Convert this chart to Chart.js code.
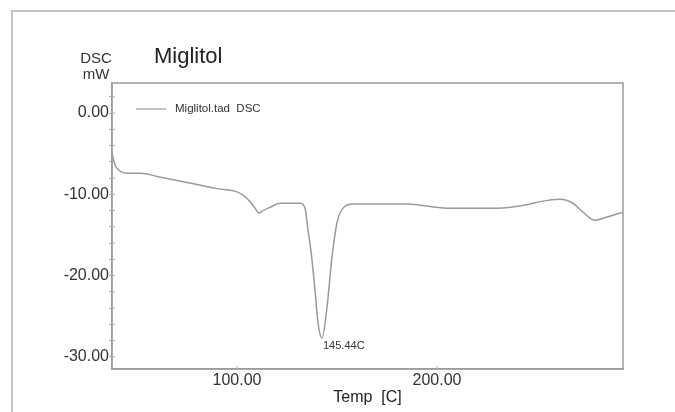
<!DOCTYPE html>
<html>
<head>
<meta charset="utf-8">
<script src="https://cdn.jsdelivr.net/npm/chart.js@4"></script>
<style>
  html, body { margin: 0; padding: 0; background: #fff; }
  #wrap { width: 675px; height: 412px; }
</style>
</head>
<body>
<div id="wrap"><canvas id="dscChart" width="675" height="412"></canvas></div>
<script>
// DSC curve (temperature in C, heat flow in mW)
const temps = [37.5, 38.5, 40, 42, 45, 52, 60, 70, 80, 90, 100, 103, 106.5, 109, 111, 113, 116.5, 121.5,
  131.5, 134, 135.5, 137, 139, 140.5, 142.5, 145, 147.5, 150, 153, 158, 163, 185, 205, 230,
  246.5, 251.5, 261.5, 268, 273, 279, 285, 293];
const dsc = [-4.9, -6.0, -6.8, -7.2, -7.4, -7.4, -7.8, -8.3, -8.8, -9.3, -9.7, -10.1, -10.9, -11.7, -12.3, -12.0, -11.6, -11.1,
  -11.1, -11.7, -14.4, -17.0, -21.8, -25.8, -27.7, -23.9, -17.7, -13.5, -11.7, -11.2, -11.2, -11.2, -11.7, -11.7,
  -11.2, -10.9, -10.6, -11.1, -12.2, -13.2, -12.8, -12.2];

const xTicks = [100, 200];
const yTicks = [-30, -28, -26, -24, -22, -20, -18, -16, -14, -12, -10, -8, -6, -4, -2, 0, 2];
const yLabelled = [-30, -20, -10, 0];

const chartTitle = "Miglitol";
const yTitle = ["DSC", "mW"];
const xTitle = "Temp  [C]";
const seriesName = "Miglitol.tad  DSC";
const peakTemp = 142.5;
const peakValue = -27.7;
const peakText = "145.44C";

const FONT = "'Liberation Sans', Arial, sans-serif";
const lineColor = "#9a9a9a";

const extras = {
  id: "extras",
  beforeDraw(chart) {
    const c = chart.ctx;
    c.save();
    // outer frame (left and top edges only visible)
    c.strokeStyle = "#c4c4c4";
    c.lineWidth = 2;
    c.beginPath();
    c.moveTo(12, 412);
    c.lineTo(12, 11);
    c.lineTo(675, 11);
    c.stroke();
    c.restore();
  },
  afterDraw(chart) {
    const c = chart.ctx;
    const xs = chart.scales.x, ys = chart.scales.y;
    const a = chart.chartArea;
    c.save();
    c.fillStyle = "#222";
    c.textBaseline = "middle";
    c.font = "22px " + FONT;
    c.textAlign = "left";
    c.fillText(chartTitle, 154, 57);
    c.font = "15px " + FONT;
    c.fillStyle = "#333";
    c.textAlign = "center";
    c.fillText(yTitle[0], 96, 59);
    c.fillText(yTitle[1], 96, 75);

    // legend inside the plot
    c.strokeStyle = lineColor;
    c.lineWidth = 1.2;
    c.beginPath();
    c.moveTo(136, 109);
    c.lineTo(166, 109);
    c.stroke();
    c.font = "11.5px " + FONT;
    c.fillStyle = "#333";
    c.textAlign = "left";
    c.fillText(seriesName, 175, 109);

    // peak label
    const px = xs.getPixelForValue(peakTemp);
    const py = ys.getPixelForValue(peakValue);
    c.font = "11px " + FONT;
    c.fillText(peakText, px + 1, py + 8);

    // plot frame
    c.strokeStyle = "#9c9c9c";
    c.lineWidth = 1.5;
    c.strokeRect(a.left, a.top, a.right - a.left, a.bottom - a.top);

    // small inner ticks on the axes
    c.lineWidth = 1;
    c.strokeStyle = "#aaa";
    yTicks.forEach(v => {
      const y = ys.getPixelForValue(v);
      if (y < a.top || y > a.bottom) return;
      c.beginPath();
      c.moveTo(a.left, y);
      c.lineTo(a.left + 3, y);
      c.stroke();
    });
    xTicks.forEach(v => {
      const x = xs.getPixelForValue(v);
      c.beginPath();
      c.moveTo(x, a.bottom);
      c.lineTo(x, a.bottom - 3);
      c.stroke();
    });
    c.restore();
  }
};

new Chart(document.getElementById("dscChart"), {
  type: "line",
  data: {
    labels: temps,
    datasets: [{
      label: seriesName,
      data: temps.map((t, i) => ({ x: t, y: dsc[i] })),
      borderColor: lineColor,
      borderWidth: 1.5,
      pointRadius: 0,
      fill: false,
      cubicInterpolationMode: "monotone"
    }]
  },
  options: {
    responsive: false,
    animation: false,
    layout: { padding: { top: 83, right: 52, left: 0, bottom: 0 } },
    plugins: { legend: { display: false }, title: { display: false }, tooltip: { enabled: false } },
    scales: {
      x: {
        type: "linear",
        min: 37.5,
        max: 293,
        afterBuildTicks: s => { s.ticks = xTicks.map(v => ({ value: v })); },
        afterFit: s => { s.height = 43; },
        grid: { drawOnChartArea: false, drawTicks: false },
        border: { color: "#9c9c9c", width: 1.5 },
        ticks: {
          padding: 2,
          color: "#333",
          font: { family: FONT, size: 16 },
          callback: v => v.toFixed(2)
        },
        title: {
          display: true,
          text: xTitle,
          color: "#222",
          font: { family: FONT, size: 16 },
          padding: { top: 0, bottom: 5 }
        }
      },
      y: {
        min: -31.5,
        max: 3.7,
        afterBuildTicks: s => { s.ticks = yTicks.map(v => ({ value: v })); },
        afterFit: s => { s.width = 112; },
        grid: { drawOnChartArea: false, drawTicks: true, tickLength: 3, color: "#aaa" },
        border: { color: "#9c9c9c", width: 1.5 },
        ticks: {
          padding: 0,
          color: "#333",
          font: { family: FONT, size: 16 },
          autoSkip: false,
          callback: v => (yLabelled.includes(v) ? v.toFixed(2) : "")
        }
      }
    }
  },
  plugins: [extras]
});
</script>
</body>
</html>
